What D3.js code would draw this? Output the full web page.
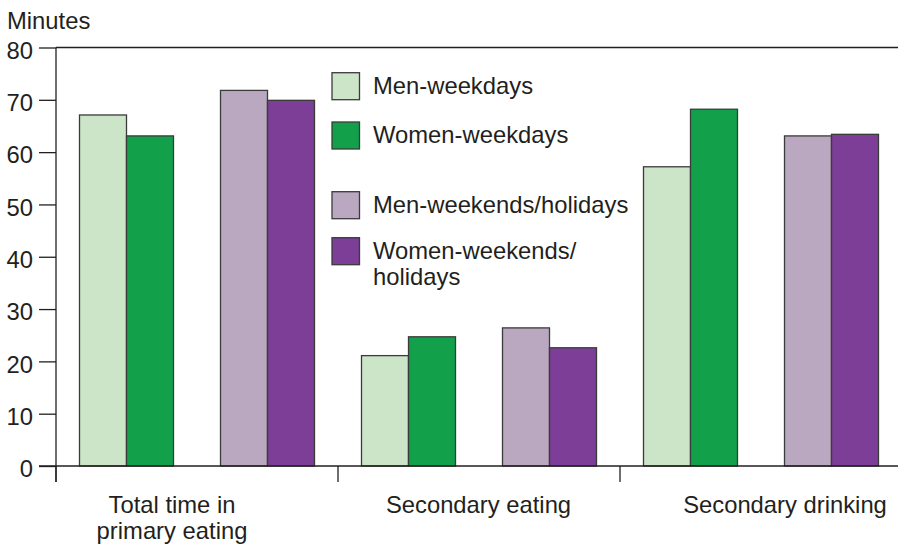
<!DOCTYPE html>
<html>
<head>
<meta charset="utf-8">
<script src="https://cdn.jsdelivr.net/npm/d3@7"></script>
<style>
  html, body { margin: 0; padding: 0; background: #fff; }
  svg { display: block; }
  text { font-family: "Liberation Sans", Arial, Helvetica, sans-serif; fill: #231f20; }
</style>
</head>
<body>
<svg id="chart" width="898" height="548"></svg>
<script>
// ---- data ----
const categories = ["Total time in primary eating", "Secondary eating", "Secondary drinking"];
const categoryLines = [["Total time in", "primary eating"], ["Secondary eating"], ["Secondary drinking"]];
const seriesNames = ["Men-weekdays", "Women-weekdays", "Men-weekends/holidays", "Women-weekends/holidays"];
const legendLines = [["Men-weekdays"], ["Women-weekdays"], ["Men-weekends/holidays"], ["Women-weekends/", "holidays"]];
const menWeekdays = [67.1, 21.1, 57.2];
const womenWeekdays = [63.1, 24.7, 68.2];
const menWeekends = [71.8, 26.4, 63.1];
const womenWeekends = [69.9, 22.6, 63.4];
const yTicks = [0, 10, 20, 30, 40, 50, 60, 70, 80];
const yLabel = "Minutes";
const colors = ["#cce4c7", "#12a04a", "#b9a8c0", "#7c3e96"];

const seriesValues = [menWeekdays, womenWeekdays, menWeekends, womenWeekends];
const periodOf = ["weekdays", "weekdays", "weekends", "weekends"];
const sexOf = ["Men", "Women", "Men", "Women"];

const svg = d3.select("#chart");
const fs = 23.8;

const y = d3.scaleLinear().domain([0, 80]).range([466, 47.5]);
const x0 = d3.scaleBand().domain(categories).range([56, 902]).padding(0);
const xPair = d3.scaleBand().domain(["weekdays", "weekends"]).range([0, x0.bandwidth()])
  .paddingInner(1/3).paddingOuter(1/6);
const xSex = d3.scaleBand().domain(["Men", "Women"]).range([0, xPair.bandwidth()]).padding(0);

// bars
const barData = [];
categories.forEach((c, ci) => {
  seriesValues.forEach((vals, si) => {
    barData.push({ c, si, v: vals[ci] });
  });
});
svg.append("g").selectAll("rect").data(barData).join("rect")
  .attr("x", d => x0(d.c) + xPair(periodOf[d.si]) + xSex(sexOf[d.si]))
  .attr("y", d => y(d.v))
  .attr("width", xSex.bandwidth())
  .attr("height", d => y(0) - y(d.v))
  .attr("fill", d => colors[d.si])
  .attr("stroke", "#3b3b3b")
  .attr("stroke-width", 1.3);

// y axis
const yAxis = svg.append("g").attr("transform", "translate(56,0)")
  .call(d3.axisLeft(y).tickValues(yTicks).tickSize(17).tickPadding(6).tickSizeOuter(0));
yAxis.select(".domain").remove();
yAxis.selectAll(".tick line").attr("stroke", "#231f20").attr("stroke-width", 1.3);
yAxis.selectAll(".tick text").attr("font-size", fs).attr("fill", "#231f20")
  .attr("font-family", "Liberation Sans, Arial, sans-serif").attr("dy", "0.45em");

// axis lines
svg.append("line").attr("x1", 56).attr("x2", 56).attr("y1", y(80)).attr("y2", 482)
  .attr("stroke", "#231f20").attr("stroke-width", 1.3);
svg.append("line").attr("x1", 56).attr("x2", 898).attr("y1", y(80)).attr("y2", y(80))
  .attr("stroke", "#231f20").attr("stroke-width", 1.3);
svg.append("line").attr("x1", 39).attr("x2", 898).attr("y1", y(0)).attr("y2", y(0))
  .attr("stroke", "#231f20").attr("stroke-width", 1.3);

// x group ticks
svg.append("g").selectAll("line").data(categories).join("line")
  .attr("x1", d => x0(d)).attr("x2", d => x0(d))
  .attr("y1", y(0)).attr("y2", 482)
  .attr("stroke", "#231f20").attr("stroke-width", 1.3);

// category labels
const labelX = d3.scalePoint().domain(categories).range([172, 785]);
const catG = svg.append("g").selectAll("text").data(categories).join("text")
  .attr("text-anchor", "middle").attr("font-size", fs)
  .attr("x", d => labelX(d)).attr("y", 512.5);
catG.each(function(d, i) {
  d3.select(this).selectAll("tspan").data(categoryLines[i]).join("tspan")
    .attr("x", labelX(d)).attr("dy", (t, j) => j === 0 ? 0 : 26).text(t => t);
});

// y label
svg.append("text").attr("x", 7).attr("y", 28.5).attr("font-size", fs).text(yLabel);

// legend
const legendY = [72.7, 122, 191.7, 237.7];
const lg = svg.append("g").selectAll("g").data(seriesNames).join("g")
  .attr("transform", (d, i) => `translate(332,${legendY[i]})`);
lg.append("rect").attr("width", 27.5).attr("height", 27)
  .attr("fill", (d, i) => colors[i]).attr("stroke", "#3b3b3b").attr("stroke-width", 1.3);
lg.append("text").attr("x", 41).attr("y", 20.8).attr("font-size", fs)
  .each(function(d, i) {
    d3.select(this).selectAll("tspan").data(legendLines[i]).join("tspan")
      .attr("x", 41).attr("dy", (t, j) => j === 0 ? 0 : 27).text(t => t);
  });
</script>
</body>
</html>
